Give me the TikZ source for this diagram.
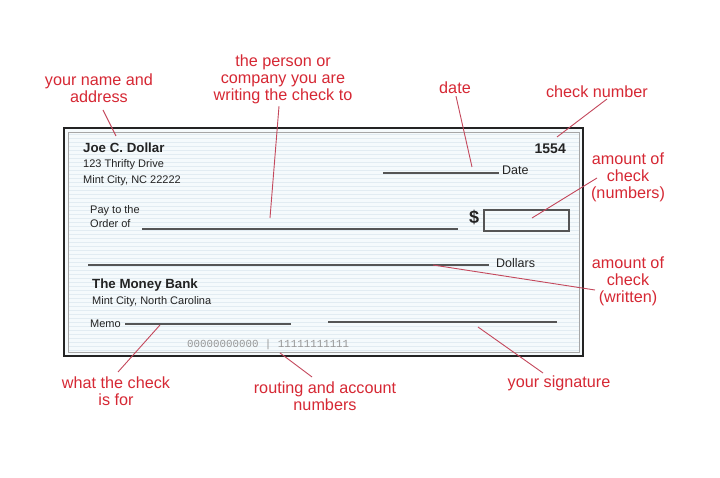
\documentclass[tikz,border=0pt]{standalone}
\usepackage{fontspec}
\setmainfont{Liberation Sans}
\newfontfamily\micrfont{Liberation Mono}
\definecolor{labred}{RGB}{214,40,52}
\definecolor{leadred}{RGB}{196,72,92}
\definecolor{checkbg}{RGB}{245,250,252}
\definecolor{ruled}{RGB}{226,236,242}
\definecolor{ink}{RGB}{35,35,35}
\definecolor{fieldline}{RGB}{85,85,85}
\definecolor{micrgray}{RGB}{150,150,150}
\begin{document}
\begin{tikzpicture}[x=1pt,y=-1pt,
  lab/.style={text=labred, align=center, inner sep=0pt, font=\fontsize{16.2}{17}\selectfont},
  leader/.style={draw=leadred, line width=0.9pt},
  small/.style={text=ink, inner sep=0pt, anchor=base west, font=\fontsize{11}{12}\selectfont},
  mid/.style={text=ink, inner sep=0pt, anchor=base west, font=\fontsize{12.5}{14}\selectfont},
  boldtxt/.style={text=ink, inner sep=0pt, anchor=base west, font=\fontsize{13.3}{15}\selectfont\bfseries},
  field/.style={draw=fieldline, line width=1.6pt}]
\useasboundingbox (0,0) rectangle (720,478);
\fill[white] (0,0) rectangle (720,478);

% check body
\fill[checkbg] (64,128) rectangle (583,356);
\foreach \yy in {134,138,...,350} \draw[ruled, line width=0.5pt] (68,\yy) -- (579,\yy);
\draw[ink, line width=2.6pt] (64,128) rectangle (583,356);
\draw[gray!70, line width=0.6pt] (68,132) rectangle (579,352);

% printed text
\node[boldtxt] (name) at (83,153) {Joe C. Dollar};
\node[small] (addr1) at (83,168) {123 Thrifty Drive};
\node[small] (addr2) at (83,184) {Mint City, NC 22222};
\node[small] (pay1) at (90,214) {Pay to the};
\node[small] (pay2) at (90,228) {Order of};
\node[boldtxt, anchor=base east, font=\fontsize{14}{15}\selectfont\bfseries] (num) at (566,154) {1554};
\node[mid] (datetxt) at (502,175) {Date};
\node[text=ink, inner sep=0pt, anchor=base west, font=\fontsize{18}{19}\selectfont\bfseries] (dollar) at (469,224) {\$};
\node[mid] (dollars) at (496,268) {Dollars};
\node[boldtxt] (bank) at (92,289) {The Money Bank};
\node[small] (bankcity) at (92,305) {Mint City, North Carolina};
\node[small] (memo) at (90,327) {Memo};
\node[text=micrgray, inner sep=0pt, anchor=base west, font=\fontsize{10.8}{12}\micrfont] (micr) at (187,347) {00000000000 | 11111111111};

% fields
\coordinate (payA) at (142,229); \coordinate (payB) at (458,229);
\draw[field] (payA) -- (payB);
\coordinate (dateA) at (383,173); \coordinate (dateB) at (499,173);
\draw[field] (dateA) -- (dateB);
\node[draw=fieldline, line width=1.6pt, minimum width=85pt, minimum height=21pt, inner sep=0pt, anchor=north west] (amtbox) at (483,209) {};
\coordinate (dolA) at (88,265); \coordinate (dolB) at (489,265);
\draw[field] (dolA) -- (dolB);
\coordinate (memoA) at (125,324); \coordinate (memoB) at (291,324);
\draw[field, line width=1.3pt] (memoA) -- (memoB);
\coordinate (sigA) at (328,322); \coordinate (sigB) at (557,322);
\draw[field, line width=1.3pt] (sigA) -- (sigB);

% labels
\node[lab] (Lname) at (99,88.5) {your name and\\address};
\node[lab] (Lpayee) at (283,79.5) {the person or\\company you are\\writing the check to};
\node[lab] (Ldate) at (455,88) {date};
\node[lab] (Lnum) at (597,92) {check number};
\node[lab] (Lamtn) at (628,177) {amount of\\check\\(numbers)};
\node[lab] (Lamtw) at (628,281) {amount of\\check\\(written)};
\node[lab] (Lmemo) at (116,391) {what the check\\is for};
\node[lab] (Lmicr) at (325,396.5) {routing and account\\numbers};
\node[lab] (Lsig) at (559,383) {your signature};

% leaders
\coordinate (pName) at (116,136);
\coordinate (pPayee) at (270,218);
\coordinate (pDate) at (472,167);
\coordinate (pNum) at (557,137);
\coordinate (pAmtN) at (532,218);
\coordinate (pAmtW) at (433,265);
\coordinate (pMemo) at (160,325);
\coordinate (pMicr) at (280,353);
\coordinate (pSig) at (478,327);
\draw[leader] (103,110) -- (pName);
\draw[leader] (Lpayee.south) ++(-4,2) -- (pPayee);
\draw[leader] (Ldate.south) ++(1,2) -- (pDate);
\draw[leader] (607,99) -- (pNum);
\draw[leader] (597,178) -- (pAmtN);
\draw[leader] (595,290) -- (pAmtW);
\draw[leader] (118,372) -- (pMemo);
\draw[leader] (312,377) -- (pMicr);
\draw[leader] (543,373) -- (pSig);
\end{tikzpicture}
\end{document}
